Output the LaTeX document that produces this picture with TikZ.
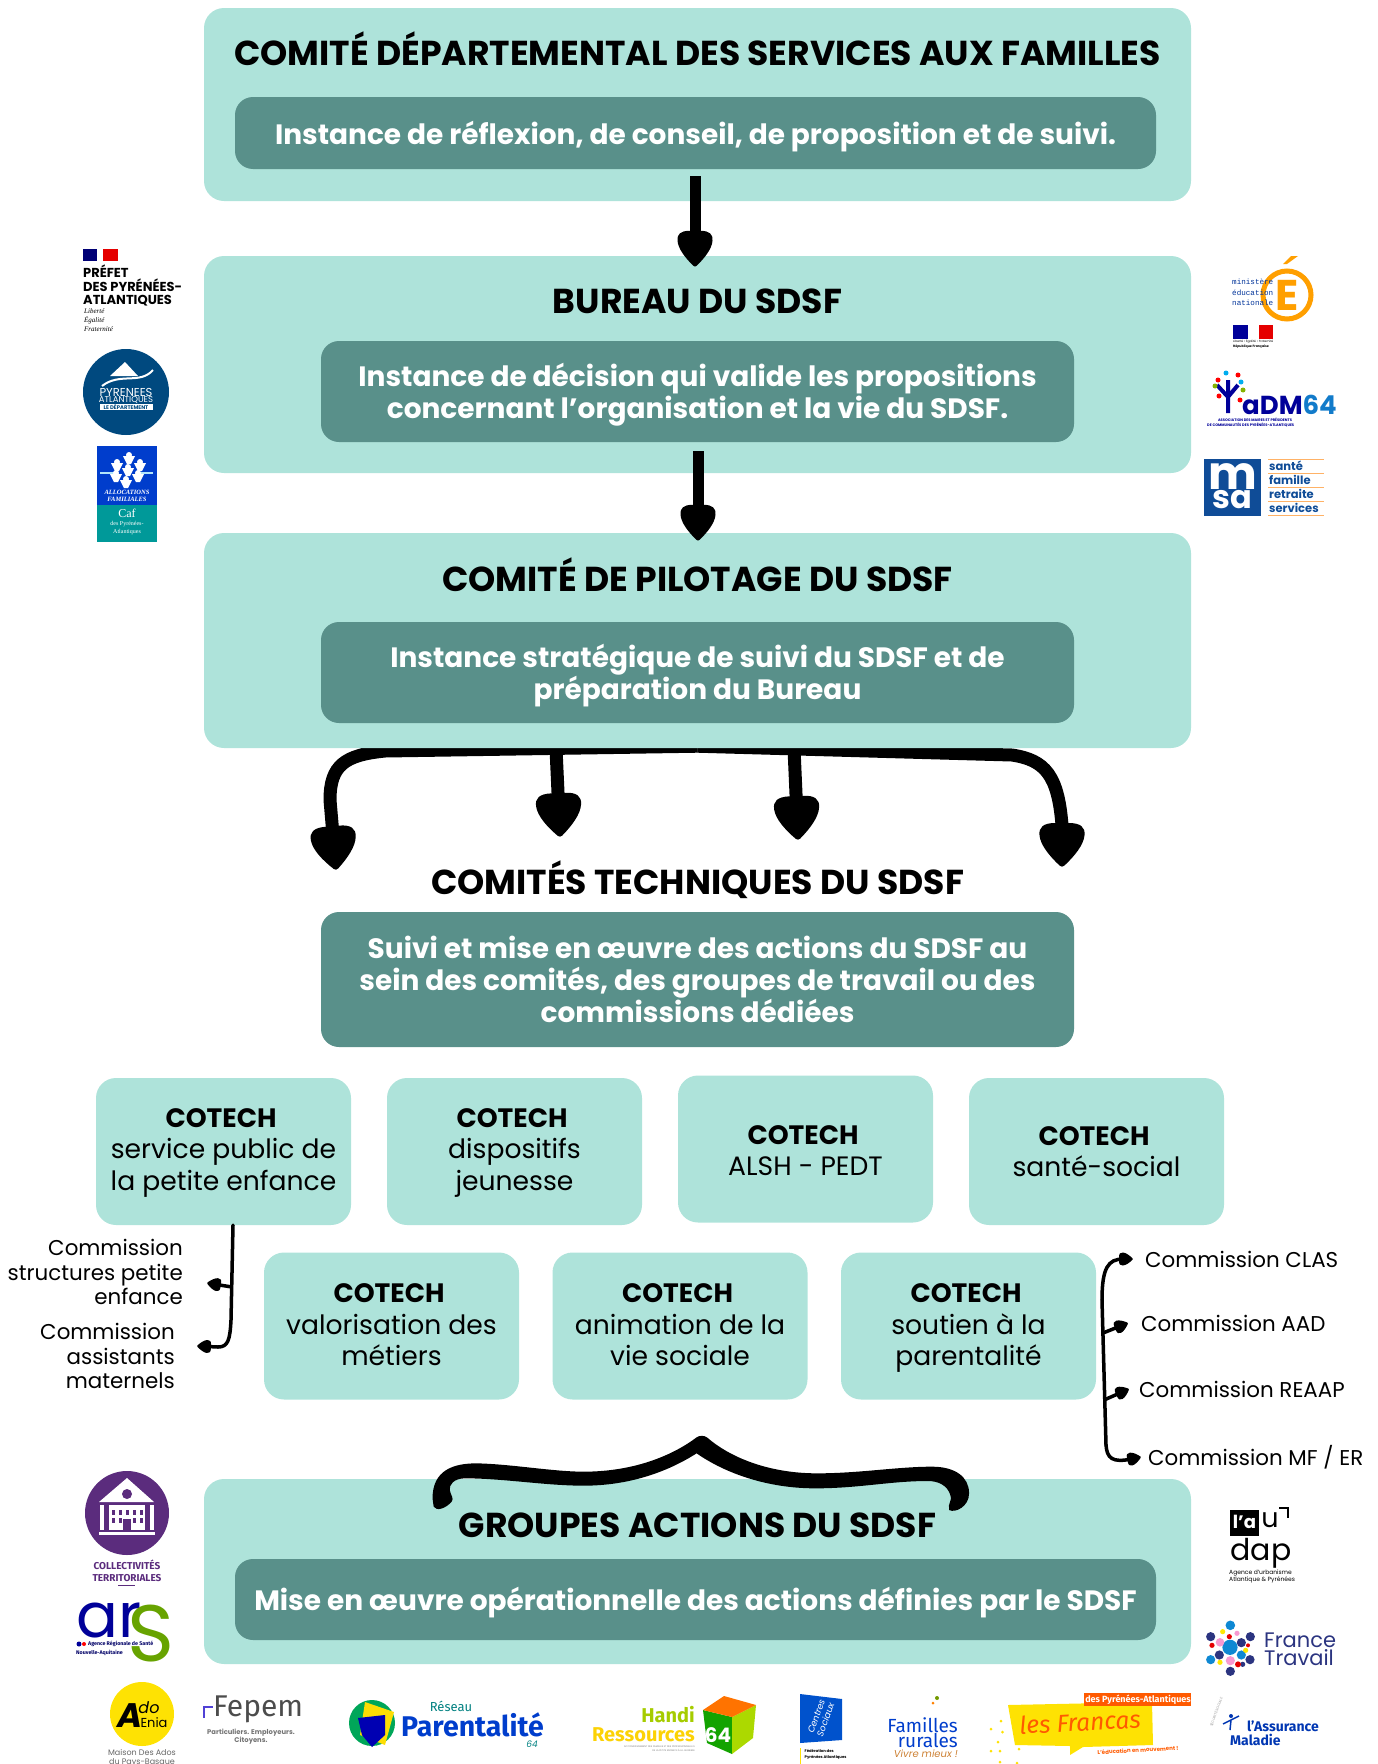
\documentclass[tikz,border=0pt]{standalone}
\usepackage{fontspec}
\setmainfont{Poppins}
\newfontfamily\serifface{Liberation Serif}
\newfontfamily\narrowface{Fira Sans}
\newfontfamily\monoface{Liberation Mono}
\usetikzlibrary{arrows.meta}
\pgfdeclarelayer{back}
\pgfsetlayers{back,main}
\definecolor{paleteal}{HTML}{AEE3DA}
\definecolor{darkteal}{HTML}{59908A}
\definecolor{violet}{HTML}{5B2C7D}
\definecolor{navy}{HTML}{2B3480}
\definecolor{deptblue}{HTML}{00497F}
\definecolor{msablue}{HTML}{0F4C97}
\definecolor{francas}{HTML}{FF5A00}
\newcommand{\fsl}[2]{\fontsize{#2}{#1\dimexpr #2pt\relax}\selectfont}
\newcommand{\fs}[1]{\fsl{1.1}{#1}}
\newcommand{\cotech}{\textbf{COTECH}\hspace*{5pt}}
\newcommand{\dropat}[2]{\pgfpoint{#1\pgfarrowlength}{#2\pgfarrowwidth}}
\pgfdeclarearrow{
  name=Drop,
  defaults={length=40pt, width=36pt},
  parameters={\the\pgfarrowlength,\the\pgfarrowwidth},
  setup code={
    \pgfarrowssettipend{0pt}
    \pgfarrowssetbackend{-\pgfarrowlength}
    \pgfarrowssetlineend{-0.7\pgfarrowlength}
    \pgfarrowssavethe\pgfarrowlength
    \pgfarrowssavethe\pgfarrowwidth
  },
  drawing code={
    \pgfpathmoveto{\dropat{-0.03}{0.05}}
    \pgfpathcurveto{\dropat{-0.25}{0.28}}{\dropat{-0.5}{0.48}}{\dropat{-0.72}{0.5}}
    \pgfpathcurveto{\dropat{-0.9}{0.52}}{\dropat{-1}{0.42}}{\dropat{-1}{0.15}}
    \pgfpathlineto{\dropat{-1}{-0.15}}
    \pgfpathcurveto{\dropat{-1}{-0.42}}{\dropat{-0.9}{-0.52}}{\dropat{-0.72}{-0.5}}
    \pgfpathcurveto{\dropat{-0.5}{-0.48}}{\dropat{-0.25}{-0.28}}{\dropat{-0.03}{-0.05}}
    \pgfpathcurveto{\dropat{0}{-0.02}}{\dropat{0}{0.02}}{\dropat{-0.03}{0.05}}
    \pgfpathclose
    \pgfusepathqfill
  }
}

\begin{document}
\begin{tikzpicture}[
    x=1pt,y=-1pt,
    outerbox/.style={fill=paleteal, rounded corners=20pt, inner sep=0},
    innerbox/.style={fill=darkteal, rounded corners=18pt, inner sep=0},
    intext/.style={inner sep=0, yshift=-4.5pt, text=white, align=center, font=\bfseries\fsl{1.143}{28}, execute at begin node=\strut, execute at end node=\strut},
    title/.style={inner sep=0, anchor=base, font=\bfseries\fs{34.6}},
    cobox/.style={fill=paleteal, rounded corners=20pt, inner sep=0, minimum width=255pt, minimum height=147pt},
    cotext/.style={inner sep=0, align=center, font=\fsl{1.18}{26.6}, execute at begin node=\strut, execute at end node=\strut},
    comm/.style={inner sep=0, font=\fsl{1.15}{21.4}},
    logo/.style={inner sep=0, font=\fs{10}},
    bigarrow/.style={line width=11pt, -{Drop[length=36pt,width=35pt]}},
    treearrow/.style={line width=13pt, -{Drop[length=44pt,width=45pt]}},
    smallarrow/.style={line width=3.5pt, -{Drop[length=14pt,width=13pt]}},
    smallline/.style={line width=3.5pt, line cap=round}
    ]
    \useasboundingbox (0, 0) rectangle (1378, 1764);
    % main boxes
    \node[outerbox, minimum width=987pt, minimum height=193pt] (comite) at (697.5, 104.5) {};
    \node[innerbox, minimum width=921pt, minimum height=72pt] (comitebox) at (695.5, 133) {};
    \node[intext] (comitetext) at (695.5, 133) {Instance de réflexion, de conseil, de proposition et de suivi.};
    \node[title] (comitetitle) at (697.5, 65) {COMITÉ DÉPARTEMENTAL DES SERVICES AUX FAMILLES};
    \node[outerbox, minimum width=987pt, minimum height=217pt] (bureau) at (697.5, 364.5) {};
    \node[innerbox, minimum width=753pt, minimum height=101pt] (bureaubox) at (697.5, 391.5) {};
    \node[intext] (bureautext) at (697.5, 391.5) {Instance de décision qui valide les propositions\\concernant l’organisation et la vie du SDSF.};
    \node[title] (bureautitle) at (697.5, 313) {BUREAU DU SDSF};
    \node[outerbox, minimum width=987pt, minimum height=215pt] (pilotage) at (697.5, 640.5) {};
    \node[innerbox, minimum width=753pt, minimum height=101pt] (pilotagebox) at (697.5, 672.5) {};
    \node[intext] (pilotagetext) at (697.5, 672.5) {Instance stratégique de suivi du SDSF et de\\préparation du Bureau};
    \node[title] (pilotagetitle) at (697.5, 591) {COMITÉ DE PILOTAGE DU SDSF};
    \node[title] (techtitle) at (697.5, 894) {COMITÉS TECHNIQUES DU SDSF};
    \node[innerbox, minimum width=753pt, minimum height=135pt] (techbox) at (697.5, 979.5) {};
    \node[intext] (techtext) at (697.5, 979.5) {Suivi et mise en œuvre des actions du SDSF au\\sein des comités, des groupes de travail ou des\\commissions dédiées};
    \node[outerbox, minimum width=987pt, minimum height=185pt] (groupes) at (697.5, 1571.5) {};
    \node[innerbox, minimum width=921pt, minimum height=81pt] (groupesbox) at (695.5, 1599.5) {};
    \node[intext] (groupestext) at (695.5, 1599.5) {Mise en œuvre opérationnelle des actions définies par le SDSF};
    \node[title] (groupestitle) at (697.5, 1537) {GROUPES ACTIONS DU SDSF};
    % cotech boxes
    \node[cobox] (petite) at (223.5, 1151.5) {};
    \node[cotext] (petitetext) at (223.5, 1154) {\cotech\\service public de\\la petite enfance};
    \node[cobox] (jeunesse) at (514.5, 1151.5) {};
    \node[cotext] (jeunessetext) at (514.5, 1154) {\cotech\\dispositifs\\jeunesse};
    \node[cobox] (alsh) at (805.5, 1149) {};
    \node[cotext] (alshtext) at (805.5, 1155.5) {\cotech\\ALSH - PEDT};
    \node[cobox] (sante) at (1096.5, 1151.5) {};
    \node[cotext] (santetext) at (1096.5, 1156) {\cotech\\santé-social};
    \node[cobox] (metiers) at (391.5, 1326) {};
    \node[cotext] (metierstext) at (391.5, 1329.5) {\cotech\\valorisation des\\métiers};
    \node[cobox] (viesociale) at (680, 1326) {};
    \node[cotext] (viesocialetext) at (680, 1329.5) {\cotech\\animation de la\\vie sociale};
    \node[cobox] (soutien) at (968.5, 1326) {};
    \node[cotext] (soutientext) at (968.5, 1329.5) {\cotech\\soutien à la\\parentalité};
    % commissions
    \node[comm, anchor=east, align=right] (structures) at (183, 1272) {Commission\\structures petite\\enfance};
    \node[comm, anchor=east, align=right] (assistants) at (175, 1356) {Commission\\assistants\\maternels};
    \node[comm, anchor=west] (clas) at (1145, 1259) {Commission CLAS};
    \node[comm, anchor=west] (aad) at (1141, 1323) {Commission AAD};
    \node[comm, anchor=west] (reaap) at (1139, 1389) {Commission REAAP};
    \node[comm, anchor=west] (mfer) at (1148, 1457) {Commission MF / ER};
    % arrows
    \draw[bigarrow] ([shift={(-2.5pt,25pt)}]comite.south) -- ([shift={(-2.5pt,-11pt)}]bureau.north);
    \draw[bigarrow] ([shift={(0.5pt,22pt)}]bureau.south) -- ([shift={(0.5pt,-8pt)}]pilotage.north);
    \coordinate (tipa) at (336, 870);
    \coordinate (tipb) at (560, 837);
    \coordinate (tipc) at (798, 840);
    \coordinate (tipd) at (1062, 867);
    \begin{pgfonlayer}{back}
      \draw[treearrow] ([yshift=2pt]pilotage.south) -- (385, 751) .. controls (345, 755) and (330, 765) .. (330, 800) -- (tipa);
      \draw[treearrow] ([yshift=2pt]pilotage.south) -- (1012, 755) .. controls (1045, 760) and (1058, 775) .. (1062, 825) -- (tipd);
      \draw[treearrow] ([xshift=-4pt]tipb |- pilotage.south) -- (tipb);
      \draw[treearrow] ([xshift=-4pt]tipc |- pilotage.south) -- (tipc);
    \end{pgfonlayer}
    \draw[smallline] ([xshift=9.5pt]petite.south) -- (231, 1320) .. controls (230, 1340) and (228, 1347) .. (218, 1347);
    \draw[smallarrow] (218, 1347) -- ([shift={(22pt,10pt)}]assistants.east);
    \draw[smallarrow] (232, 1287) -- ([shift={(24pt,-11pt)}]structures.east);
    \draw[smallline] (1102, 1300) -- (1106, 1445);
    \draw[smallarrow] (1102, 1300) .. controls (1102, 1268) and (1108, 1259) .. ([xshift=-12pt]clas.west);
    \draw[smallarrow] (1103, 1333) -- ([xshift=-13pt]aad.west);
    \draw[smallarrow] (1104, 1400) -- ([xshift=-10pt]reaap.west);
    \draw[smallarrow] (1106, 1445) .. controls (1107, 1458) and (1112, 1463) .. ([xshift=-7pt]mfer.west);
    % brace
    \begin{scope}[shift={(400, 1420)}, x=0.3827pt, y=-0.3333pt]
      \fill (85, 235) .. controls (85, 150) and (140, 130) .. (200, 130) .. controls (290, 132) and (400, 155) .. (480, 155)
        .. controls (620, 155) and (720, 100) .. (775, 52) .. controls (782, 46) and (795, 46) .. (802, 52)
        .. controls (860, 110) and (960, 160) .. (1090, 160) .. controls (1200, 160) and (1300, 140) .. (1390, 140)
        .. controls (1450, 140) and (1487, 170) .. (1487, 220) .. controls (1487, 260) and (1450, 280) .. (1435, 270)
        .. controls (1430, 250) and (1445, 240) .. (1438, 225) .. controls (1430, 195) and (1405, 183) .. (1380, 183)
        .. controls (1280, 183) and (1200, 205) .. (1085, 205) .. controls (960, 205) and (850, 160) .. (775, 100)
        .. controls (700, 155) and (600, 197) .. (480, 197) .. controls (380, 197) and (270, 175) .. (170, 175)
        .. controls (140, 175) and (128, 195) .. (130, 210) .. controls (132, 225) and (142, 235) .. (135, 245)
        .. controls (120, 265) and (95, 275) .. (88, 260) -- cycle;
    \end{scope}
    % logo prefet
    \fill[blue!40!black!90!blue] (83, 249) rectangle (97, 261);
    \fill[red!90!black] (103, 249) rectangle (118, 261);
    \node[logo, anchor=north west, align=left, font=\bfseries\fsl{1.03}{13}] (prefet) at (83, 265) {PRÉFET\\DES PYRÉNÉES-\\ATLANTIQUES};
    \node[logo, anchor=north west, align=left, font=\serifface\itshape\fsl{1.3}{7}] (liberte) at (84, 308) {Liberté\\Égalité\\Fraternité};
    % logo departement
    \fill[deptblue] (126, 392) circle (43);
    \fill[white] (125, 362) -- (138, 376) -- (110, 376) -- cycle;
    \draw[white, line width=2pt] (102, 386) .. controls (120, 372) and (140, 385) .. (153, 370);
    \node[logo, text=white, font=\fs{11.5}] (pyrenees) at (126, 392) {PYRENEES};
    \node[logo, text=white, font=\fs{8.5}] (atlantiques) at (126, 400) {ATLANTIQUES};
    \node[logo, fill=white, text=deptblue, font=\bfseries\fs{5.3}, minimum width=53pt] (departement) at (126, 407) {LE DÉPARTEMENT};
    % logo caf
    \fill[blue!70!cyan!80!black] (97, 446) rectangle (157, 505);
    \fill[teal!80!cyan] (97, 505) rectangle (157, 542);
    \fill[white!70!cyan] (100, 472) rectangle (115, 474);
    \fill[white!70!cyan] (138, 472) rectangle (153, 474);
    \foreach \cx/\cy in {129/455, 117/462, 140/462, 128/467, 116/473, 138/473, 126/479}
      \fill[white] (\cx, \cy) circle (3) (\cx-6, \cy+1) -- (\cx+6, \cy+1) -- (\cx+2, \cy+9) -- (\cx-2, \cy+9) -- cycle;
    \node[logo, text=white, align=center, font=\serifface\bfseries\itshape\fs{6.5}] (alloc) at (127, 496) {ALLOCATIONS\\FAMILIALES};
    \node[logo, text=white, font=\serifface\fs{12}] (caf) at (127, 513) {Caf};
    \node[logo, text=white, align=center, font=\serifface\fsl{1.3}{6}] (cafdes) at (127, 528) {des Pyrénées-\\Atlantiques};
    % logo education
    \draw[orange!75!yellow, line width=5pt] (1287, 295) circle (24);
    \fill[orange!75!yellow] (1283, 264) -- (1291, 256) -- (1298, 256) -- (1287, 264) -- cycle;
    \node[logo, text=orange!75!yellow, font=\bfseries\fs{43}] (egrand) at (1287, 295) {E};
    \node[logo, anchor=north west, align=left, text=blue!50!black!80!cyan, font=\monoface\fsl{1.4}{7.6}] (ministere) at (1232, 279) {ministère\\éducation\\nationale};
    \fill[blue!60!black] (1233, 325) rectangle (1248, 339);
    \fill[red!90!black] (1259, 325) rectangle (1273, 339);
    \node[logo, anchor=west, font=\fs{3}] (devise) at (1233, 342) {Liberté • Égalité • Fraternité};
    \node[logo, anchor=west, font=\bfseries\fs{3.2}] (republique) at (1233, 347) {République Française};
    % logo adm
    \draw[blue!60!black, line width=4pt] (1228, 413) -- (1228, 395) (1217, 385) -- (1228, 397) -- (1238, 385) (1228, 397) -- (1228, 380);
    \foreach \cx/\cy/\cc in {1226/373/cyan, 1238/375/red, 1241/382/cyan, 1218/380/red, 1215/386/lime!70!black, 1243/390/lime!70!black, 1219/396/red, 1240/400/red}
      \fill[\cc] (\cx, \cy) circle (2.5);
    \node[logo, anchor=west, text=blue!60!black, font=\bfseries\fs{26}] (adm) at (1242, 405) {aDM\textcolor{cyan!60!blue}{64}};
    \node[logo, anchor=north west, align=left, text=blue!60!black, font=\bfseries\fsl{1.2}{3.6}] (admtext) at (1207, 418) {\quad\quad\quad ASSOCIATION DES MAIRES ET PRÉSIDENTS\\DE COMMUNAUTÉS DES PYRÉNÉES-ATLANTIQUES};
    % logo msa
    \fill[msablue] (1204, 459) rectangle (1261, 516);
    \node[logo, text=white, font=\bfseries\fs{46}] (msam) at (1232.5, 477) {m};
    \node[logo, text=white, font=\bfseries\fs{32}] (msasa) at (1232.5, 500) {sa};
    \foreach \cy in {459, 473, 487, 501, 515}
      \draw[orange!60] (1268, \cy) -- (1324, \cy);
    \node[logo, anchor=west, text=msablue, font=\bfseries\fs{11.5}] (msaa) at (1269, 466) {santé};
    \node[logo, anchor=west, text=msablue, font=\bfseries\fs{11.5}] (msab) at (1269, 480) {famille};
    \node[logo, anchor=west, text=msablue, font=\bfseries\fs{11.5}] (msac) at (1269, 494) {retraite};
    \node[logo, anchor=west, text=msablue, font=\bfseries\fs{11.5}] (msad) at (1269, 508) {services};
    % logo collectivites
    \fill[violet] (127, 1513) circle (42);
    \fill[white] (127, 1478) -- (154, 1502) -- (99, 1502) -- cycle;
    \fill[white] (100, 1505) rectangle (154, 1530);
    \fill[white] (99, 1532) rectangle (155, 1535);
    \foreach \cx in {104, 145} \fill[violet] (\cx, 1505) rectangle (\cx+5, 1530);
    \foreach \cx in {112, 119, 126, 133, 140} \fill[violet] (\cx, 1510) rectangle (\cx+3, 1515);
    \foreach \cx in {112, 119, 133, 140} \fill[violet] (\cx, 1518) rectangle (\cx+3, 1523);
    \fill[violet] (123, 1519) rectangle (131, 1530);
    \fill[violet] (127, 1494) circle (5);
    \node[logo, text=violet, align=center, font=\narrowface\bfseries\fsl{1.2}{10}] (collect) at (127, 1571) {COLLECTIVITÉS\\TERRITORIALES};
    \draw[violet, line width=0.8pt] (118, 1585) -- (135, 1585);
    % logo ars
    \node[logo, anchor=west, text=blue!60!black, font=\fs{62}] (arsar) at (76, 1620) {ar};
    \node[logo, anchor=west, text=lime!60!black!90!green, font=\fs{80}] (arss) at (127, 1634) {S};
    \fill[blue!60!black] (79, 1644) circle (2.5);
    \fill[red] (84, 1644) circle (2);
    \node[logo, anchor=west, text=blue!40!black, font=\narrowface\bfseries\fs{5.3}] (arsa) at (88, 1644) {Agence Régionale de Santé};
    \node[logo, anchor=west, text=blue!40!black, font=\narrowface\bfseries\fs{5.3}] (arsb) at (76, 1653) {Nouvelle-Aquitaine};
    % logo ado
    \fill[yellow!85!orange] (142, 1714) circle (32);
    \node[logo, font=\bfseries\itshape\fs{34}] (adoa) at (130, 1716) {A};
    \node[logo, font=\itshape\fs{16}] (adob) at (149, 1708) {do};
    \node[logo, font=\fs{13}] (adoc) at (154, 1723) {Enia};
    \node[logo, text=black!60, align=center, font=\fsl{1.1}{8}] (adod) at (142, 1758) {Maison Des Ados\\du Pays-Basque};
    % logo fepem
    \draw[blue!60!violet!80, line width=2.5pt] (204, 1718) -- (204, 1707) -- (213, 1707);
    \node[logo, anchor=west, text=black!70, font=\narrowface\fs{30}] (fepem) at (213, 1709) {Fepem};
    \node[logo, text=black!55, align=center, font=\bfseries\fsl{1.2}{6.8}] (fepemtext) at (251, 1737) {Particuliers. Employeurs.\\Citoyens.};
    % logo parentalite
    \fill[teal!70!green] (372, 1723) circle (23);
    \fill[yellow!80!orange] (365, 1702) -- (394, 1712) -- (385, 1745) -- (360, 1735) -- cycle;
    \fill[blue!70!black] (358, 1718) -- (385, 1715) -- (385, 1735) -- (372, 1747) -- (362, 1735) -- cycle;
    \node[logo, text=teal, font=\narrowface\fs{13}] (reseau) at (451, 1706) {Réseau};
    \node[logo, anchor=west, text=blue!70!cyan!80!black, font=\narrowface\bfseries\fs{28.5}] (parent) at (401, 1725) {Parentalité};
    \node[logo, text=teal, font=\itshape\fs{9}] (parentb) at (532, 1744) {64};
    % logo handi
    \node[logo, anchor=east, text=lime!60!olive, font=\narrowface\bfseries\fs{20}] (handi) at (695, 1715) {Handi};
    \node[logo, anchor=east, text=yellow!70!orange, font=\narrowface\bfseries\fs{20}] (ressources) at (695, 1735) {Ressources};
    \node[logo, anchor=north east, align=right, text=black!50, font=\fsl{1.5}{2.4}] (handitext) at (695, 1746) {ACCOMPAGNEMENT DES FAMILLES ET DES PROFESSIONNEL.LE.S\\DE LA PETITE ENFANCE À LA JEUNESSE};
    \fill[green!60!black!90!lime] (703, 1710) -- (732, 1717) -- (732, 1754) -- (707, 1743) -- cycle;
    \fill[lime!70!olive] (732, 1717) -- (756, 1705) -- (753, 1738) -- (732, 1754) -- cycle;
    \fill[orange!90!red] (703, 1710) -- (724, 1696) -- (756, 1705) -- (732, 1717) -- cycle;
    \node[logo, text=white, font=\bfseries\fs{20}] (handib) at (718, 1735) {64};
    % logo centres sociaux
    \fill[blue!60!cyan!80!black] (800, 1694) -- (842, 1699) -- (842, 1740) -- (800, 1743) -- cycle;
    \node[logo, text=white, align=center, font=\itshape\fs{9}, rotate=70] (centres) at (821, 1718) {Centres\\Sociaux};
    \draw[yellow!85!orange, line width=1pt] (800, 1748) -- (800, 1764);
    \node[logo, anchor=north west, align=left, font=\bfseries\fsl{1.6}{3.8}] (centresb) at (804.5, 1749) {Fédération des\\Pyrénées Atlantiques};
    % logo familles
    \fill[lime!60!black] (937, 1698) circle (2);
    \fill[orange] (933, 1703) circle (1.5);
    \node[logo, anchor=east, text=blue!70!cyan!80!black, font=\narrowface\fs{19}] (familles) at (958, 1725) {Familles};
    \node[logo, anchor=east, text=blue!70!cyan!80!black, font=\narrowface\fs{19}] (rurales) at (958, 1740) {rurales};
    \node[logo, anchor=east, text=brown!80!orange, font=\itshape\fs{10}] (vivre) at (958, 1754) {Vivre mieux !};
    % logo francas
    \fill[yellow!85!orange] (1008, 1705) -- (1152, 1702) -- (1153, 1745) -- (1083, 1747) -- (1070, 1755) -- (1070, 1746) -- (1015, 1745) -- cycle;
    \foreach \cx/\cy in {1001/1721, 1002.5/1732, 991/1729, 998/1742, 1000/1751, 991/1751, 1019/1749, 1000/1762, 1017/1763}
      \fill[yellow!85!orange] (\cx, \cy) circle (1.5);
    \fill[francas] (1084, 1693) rectangle (1191, 1706);
    \node[logo, text=white, font=\narrowface\bfseries\fs{9}] (francasb) at (1138, 1699.5) {des Pyrénées-Atlantiques};
    \node[logo, text=francas, rotate=3, font=\narrowface\itshape\fs{24.5}] (francast) at (1080, 1722) {les Francas};
    \node[logo, text=francas, rotate=3, font=\bfseries\fs{5.5}] (francasc) at (1138, 1750) {L’éducation en mouvement !};
    % logo assurance
    \fill[blue!70!cyan!70!black] (1231, 1716) circle (2);
    \draw[blue!70!cyan!70!black, line width=1.5pt] (1231, 1720) -- (1230, 1730) (1223, 1724) -- (1239, 1716);
    \node[logo, text=black!40, rotate=70, font=\fs{3.5}] (secu) at (1216, 1712) {SÉCURITÉ SOCIALE};
    \node[logo, anchor=west, text=blue!70!cyan!70!black, font=\narrowface\bfseries\fs{14}] (assur) at (1247, 1726) {l’Assurance};
    \node[logo, anchor=west, text=blue!70!cyan!70!black, font=\narrowface\bfseries\fs{14}] (maladie) at (1230, 1740) {Maladie};
    % logo audap
    \fill[black] (1230, 1510) rectangle (1259, 1536);
    \node[logo, text=white, font=\bfseries\fs{18}] (laudap) at (1244.5, 1522) {l’a};
    \node[logo, font=\fs{27}] (audapu) at (1270, 1520) {u};
    \draw[line width=2.5pt] (1279, 1508) -- (1288, 1508) -- (1288, 1518);
    \node[logo, font=\fs{30}] (dap) at (1261, 1553) {dap};
    \node[logo, anchor=north west, align=left, font=\fsl{1.15}{6}] (audaptext) at (1229, 1570) {Agence d’urbanisme\\Atlantique \& Pyrénées};
    % logo france travail
    \begin{scope}[shift={(1180, 1490)}, x=0.3333pt, y=-0.3333pt]
      \foreach \cx/\cy/\cr in {92/440/4.6, 211/440/4.6, 184/458/4.6, 118/495/4.6, 210/509/4.6, 151/544/4.6, 188/523/2.6}
        \fill[navy] (\cx, \cy) circle (\cr pt);
      \foreach \cx/\cy/\cr in {151/406/4.8, 150/472/7.6, 184/495/4.6, 92/509/4.6}
        \fill[cyan!70!blue] (\cx, \cy) circle (\cr pt);
      \foreach \cx/\cy/\cr in {120/457/4.3, 171/430/2.6, 151/512/4.6}
        \fill[magenta!40] (\cx, \cy) circle (\cr pt);
      \foreach \cx/\cy/\cr in {148/440/2.6, 96/466/2.6, 204/466/2, 174/523/3}
        \fill[red!90!black] (\cx, \cy) circle (\cr pt);
      \foreach \cx/\cy/\cr in {128/425/2.6, 197/481/2.6, 120/517/2.6}
        \fill[yellow!90!orange] (\cx, \cy) circle (\cr pt);
    \end{scope}
    \node[logo, anchor=west, text=navy, font=\fs{21}] (france) at (1264, 1640) {France};
    \node[logo, anchor=west, text=navy, font=\fs{21}] (travail) at (1264, 1658) {Travail};
  \end{tikzpicture}
\end{document}
